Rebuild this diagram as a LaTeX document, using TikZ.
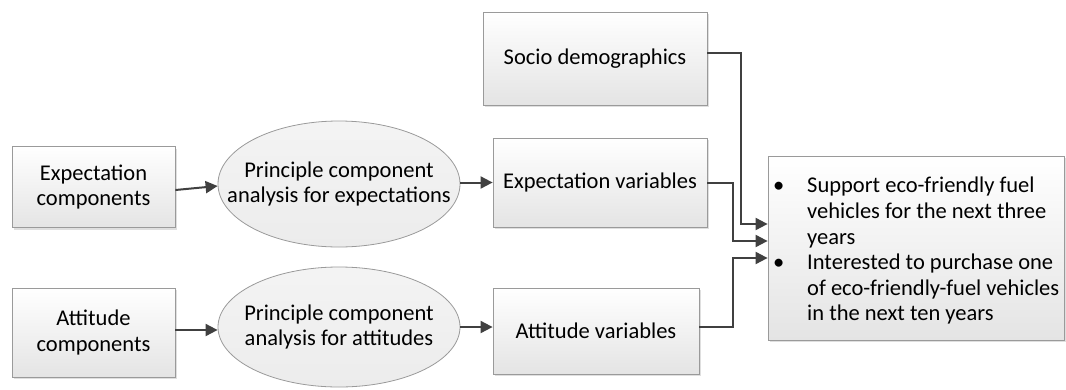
\documentclass[tikz,border=0pt]{standalone}
\usepackage{fontspec}
\setmainfont{Carlito}
\usetikzlibrary{arrows.meta,shadows,shapes.geometric}

\definecolor{edgegray}{HTML}{9A9A9A}
\definecolor{arrowgray}{HTML}{404040}
\definecolor{boxbottom}{HTML}{E4E4E4}
\definecolor{ovalfill}{HTML}{ECECEC}

\begin{document}
\begin{tikzpicture}[x=1pt,y=-1pt,
  every node/.style={font=\fontsize{22.5}{25.6}\selectfont, align=center, inner sep=0pt},
  box/.style={draw=edgegray, line width=0.8pt, rectangle,
    top color=white, bottom color=boxbottom,
    drop shadow={opacity=0.25, shadow xshift=2pt, shadow yshift=-2pt}},
  oval/.style={draw=edgegray, line width=0.8pt, ellipse,
    top color=ovalfill!60, bottom color=ovalfill},
  arr/.style={draw=arrowgray, line width=2pt,
    -{Triangle[length=12pt,width=12pt]}}]

\useasboundingbox (0,0) rectangle (1066,389);

% inputs on the left
\node[box, minimum width=163pt, minimum height=81pt] (ec) at (93.5,187) {Expectation\\components};
\node[box, minimum width=163pt, minimum height=89pt] (ac) at (93.5,332.5) {Attitude\\components};

% principal component analysis steps: fixed-size ovals, labels set on top
\node[oval, minimum width=242pt, minimum height=126pt] (pe) at (339,184) {};
\node (pet) at (pe.center) {Principle component\\analysis for expectations};
\node[oval, minimum width=242pt, minimum height=120pt] (pa) at (339,327) {};
\node (pat) at (pa.center) {Principle component\\analysis for attitudes};

% derived variables
\node[box, minimum width=224pt, minimum height=93pt] (sd) at (595,58.5) {Socio demographics};
\node[box, minimum width=214pt, minimum height=89pt] (ev) at (600,182.5) {Expectation variables};
\node[box, minimum width=206pt, minimum height=86pt] (av) at (596,331) {Attitude variables};

% outcome box with bullet list
\node[box, minimum width=296pt, minimum height=184pt] (out) at (916,248) {};
\node[anchor=north west, align=left] (outtext) at (773,177) {%
  \makebox[34pt][l]{•}Support eco-friendly fuel\\
  \hspace*{34pt}vehicles for the next three\\
  \hspace*{34pt}years\\
  \makebox[34pt][l]{•}Interested to purchase one\\
  \hspace*{34pt}of eco-friendly-fuel vehicles\\
  \hspace*{34pt}in the next ten years};

\coordinate (in1) at ([yshift=24pt]out.west);
\coordinate (in2) at ([yshift=7pt]out.west);
\coordinate (in3) at ([yshift=-10pt]out.west);

% connectors
\draw[arr] ([yshift=-3pt]ec.east) -- ([yshift=-2pt]pe.west);
\draw[arr] ([yshift=2.5pt]ac.east) -- ([yshift=2.5pt]ac.east -| pa.west);
\draw[arr] (ev.west -| pe.east) -- (ev.west);
\draw[arr] (pa.east) -- (pa.east -| av.west);

\draw[arr] ([yshift=5.5pt]sd.east) -- ++(34,0) |- (in1);
\draw[arr] (ev.east) -- ++(26,0) |- (in2);
\draw[arr] ([yshift=4pt]av.east) -- ++(34,0) |- (in3);

\end{tikzpicture}
\end{document}
